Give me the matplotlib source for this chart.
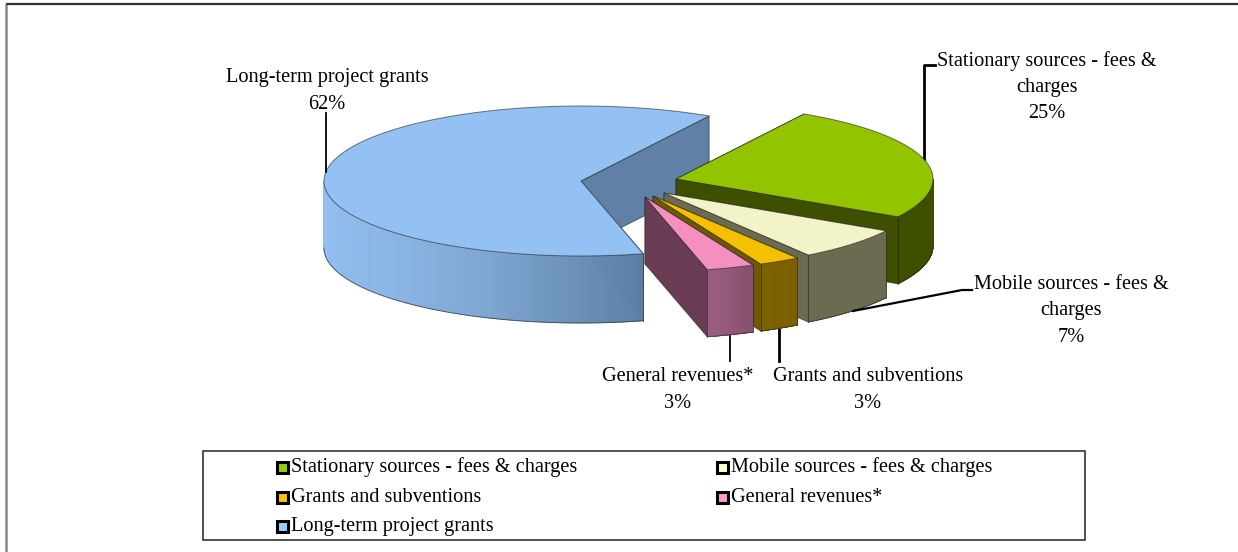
import numpy as np
import matplotlib
matplotlib.use("Agg")
import matplotlib.pyplot as plt
from matplotlib.collections import PolyCollection
from matplotlib.colors import LinearSegmentedColormap
from matplotlib.patches import Rectangle

plt.rcParams['font.family'] = ['Liberation Serif', 'DejaVu Serif']

# slices, clockwise from the top right
names = ["Stationary sources - fees & charges", "Mobile sources - fees & charges",
         "Grants and subventions", "General revenues*", "Long-term project grants"]
shares = [25.1, 7.1, 2.6, 3.0, 62.2]

topColors = ["#92C400", "#F2F3C6", "#F5C000", "#F48FC0", "#93C1F3"]
legendColors = ["#99CC00", "#FFFFCC", "#FFC000", "#FF99CC", "#99CCFF"]
faceColors = ["#3F4F00", "#6B6B52", "#705800", "#6B3D54", "#6080A5"]
wallColors = [["#3F4F00", "#3F4F00"], ["#6B6B52", "#6B6B52"], ["#7C6200", "#7A6000"],
              ["#9C5F82", "#87506F"], ["#92BFF0", "#7DA6D3", "#5B7FA4"]]

# where each slice tip sits (exploded look), in pixels of the picture
tipX = [676, 664, 653, 645, 581]
tipY = [179, 193, 196, 197, 181]
# long slice is at the back
layer = [3, 4, 5, 6, 2]

rx, ry, depth = 257, 75, 67
startAngle = 60.1
edge = "#22222299"

fig = plt.figure(figsize=(12.38, 5.52), dpi=100)
ax = fig.add_axes([0, 0, 1, 1])
ax.set_xlim(0, 1238)
ax.set_ylim(552, 0)
ax.axis("off")

# outer frame of the slide
ax.plot([6, 6], [552, 4], color="#888888", lw=1.8, solid_capstyle="butt")
ax.plot([6, 1238], [4, 4], color="#333333", lw=1.6, solid_capstyle="butt")


def rim(cx, cy, a):
    rad = np.radians(a)
    return cx + rx * np.cos(rad), cy - ry * np.sin(rad)


def cutFace(cx, cy, a, color, z):
    x, y = rim(cx, cy, a)
    ax.fill([cx, x, x, cx], [cy, y, y + depth, cy + depth], color=color,
            ec=edge, lw=0.7, zorder=z)


angle = startAngle
for i in range(len(shares)):
    a0 = angle
    a1 = angle - shares[i] * 3.6
    angle = a1
    cx, cy = tipX[i], tipY[i]
    z = layer[i]

    cutFace(cx, cy, a0, faceColors[i], z)
    cutFace(cx, cy, a1, faceColors[i], z)

    # outer wall, only the part that faces the viewer (lower half of the ellipse)
    wallFrom = min(a0, 0)
    wallTo = max(a1, -180)
    steps = np.linspace(wallFrom, wallTo, 300)
    wx, wy = rim(cx, cy, steps)
    cmap = LinearSegmentedColormap.from_list("wall", wallColors[i])
    span = wx.max() - wx.min()
    quads = []
    cols = []
    for k in range(len(wx) - 1):
        quads.append([(wx[k], wy[k]), (wx[k + 1], wy[k + 1]),
                      (wx[k + 1], wy[k + 1] + depth), (wx[k], wy[k] + depth)])
        cols.append(cmap((0.5 * (wx[k] + wx[k + 1]) - wx.min()) / span))
    ax.add_collection(PolyCollection(quads, facecolors=cols, edgecolors=cols, linewidths=0.5, zorder=z))
    ax.plot(wx, wy + depth, color=edge, lw=0.7, zorder=z)
    # vertical edges only where the slice really ends
    for a in (a0, a1):
        if -180 < a < 0:
            ex, ey = rim(cx, cy, a)
            ax.plot([ex, ex], [ey, ey + depth], color=edge, lw=0.7, zorder=z)

    # top
    tx, ty = rim(cx, cy, np.linspace(a0, a1, 200))
    ax.fill(np.r_[cx, tx], np.r_[cy, ty], color=topColors[i], ec=edge, lw=0.7, zorder=z)

# leader lines
ax.plot([326, 326], [172, 113], color="black", lw=1.3, zorder=10)
ax.plot([924, 924, 935], [163, 65, 65], color="black", lw=2, zorder=1)
ax.plot([853, 962, 972], [311, 290, 290], color="black", lw=1.6, zorder=10)
ax.plot([730, 730], [334, 361], color="black", lw=1.3, zorder=1)
ax.plot([778.5, 778.5], [328, 361], color="black", lw=2, zorder=1)

# data labels
labelX = [1047, 1071, 868, 678, 327]
labelY = [87, 311, 390, 390, 91]
for i in range(len(names)):
    txt = names[i].replace("& ", "&\n") + "\n%d%%" % round(shares[i])
    ax.text(labelX[i], labelY[i], txt, ha="center", va="center", fontsize=14.6,
            linespacing=1.52, color="black", zorder=11)

# legend box
ax.add_patch(Rectangle((203, 451), 882, 89, fc="white", ec="#222222", lw=1.1, zorder=1))
legendX = [282, 722, 282, 722, 282]
legendY = [467, 467, 497, 497, 526]
for i in range(len(names)):
    ax.add_patch(Rectangle((legendX[i] - 5.5, legendY[i] - 5.5), 11, 11, fc=legendColors[i],
                           ec="black", lw=2.2, zorder=12))
    ax.text(legendX[i] + 9, legendY[i], names[i], ha="left", va="center", fontsize=14.6, zorder=12)

fig.savefig("out.png", dpi=100)
